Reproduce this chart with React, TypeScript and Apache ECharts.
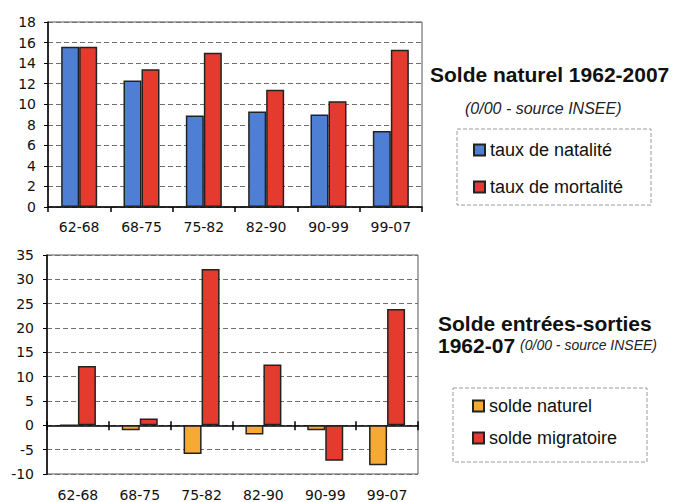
import React, { useEffect, useRef } from "react";
import * as echarts from "echarts";

const periods = ["62-68", "68-75", "75-82", "82-90", "90-99", "99-07"];
const natalite = [15.6, 12.3, 8.9, 9.3, 9.0, 7.4];
const mortalite = [15.6, 13.4, 15.0, 11.4, 10.3, 15.3];
const soldeNaturel = [0, -1.0, -5.9, -1.9, -1.0, -8.2];
const soldeMigratoire = [12.2, 1.4, 32.1, 12.5, -7.3, 23.9];
const bottomMin = -10;
const bottomMax = 35;

const BLUE = "#4e7fd5";
const RED = "#e53b2e";
const ORANGE = "#f7a935";
const EDGE = "#222";
const AXIS_FONT = "DejaVu Sans";
const TEXT_FONT = "Liberation Sans, Arial, sans-serif";

const G2_TOP = 255;
const G2_HEIGHT = 219;

export default function App() {
  const ref = useRef<HTMLDivElement>(null);
  useEffect(() => {
    if (!ref.current) return;
    const chart = echarts.init(ref.current, null, { renderer: "svg" });
    const gridLine = { show: true, lineStyle: { color: "#6f6f6f", type: [5, 3] as any, width: 1 } };
    const yLabel = { color: "#111", fontFamily: AXIS_FONT, fontSize: 14 };
    const xLabel = { color: "#111", fontFamily: AXIS_FONT, fontSize: 14 };
    const barBase = { type: "bar" as const, barWidth: 18, barGap: "0%" };
    const zeroOffset = -(G2_HEIGHT * (0 - bottomMin)) / (bottomMax - bottomMin);
    chart.setOption({
      animation: false,
      backgroundColor: "#ffffff",
      title: [
        {
          text: "Solde naturel 1962-2007",
          left: 430,
          top: 64,
          textStyle: { fontFamily: TEXT_FONT, fontSize: 21, fontWeight: "bold", color: "#111" },
          padding: 0,
        },
        {
          text: "(0/00 - source INSEE)",
          left: 465,
          top: 100,
          textStyle: { fontFamily: TEXT_FONT, fontSize: 16, fontStyle: "italic", fontWeight: "normal", color: "#222" },
          padding: 0,
        },
        {
          text: "{t|Solde entrées-sorties}\n{b|1962-07} {i|(0/00 - source INSEE)}",
          left: 438,
          top: 312,
          padding: 0,
          textStyle: {
            rich: {
              t: { fontFamily: TEXT_FONT, fontSize: 21, fontWeight: "bold", color: "#111", lineHeight: 22 },
              b: { fontFamily: TEXT_FONT, fontSize: 21, fontWeight: "bold", color: "#111", lineHeight: 22 },
              i: { fontFamily: TEXT_FONT, fontSize: 14, fontStyle: "italic", fontWeight: "normal", color: "#222", lineHeight: 22 },
            },
          },
        },
      ],
      legend: [
        {
          data: ["taux de natalité", "taux de mortalité"],
          orient: "vertical",
          left: 473,
          top: 141,
          padding: 0,
          itemWidth: 11,
          itemHeight: 11,
          itemGap: 19,
          icon: "rect",
          textStyle: { fontFamily: TEXT_FONT, fontSize: 18, color: "#111" },
        },
        {
          data: ["solde naturel", "solde migratoire"],
          orient: "vertical",
          left: 472,
          top: 397,
          padding: 0,
          itemWidth: 11,
          itemHeight: 11,
          itemGap: 14,
          icon: "rect",
          textStyle: { fontFamily: TEXT_FONT, fontSize: 18, color: "#111" },
        },
      ],
      graphic: [
        {
          type: "rect",
          shape: { x: 457, y: 129, width: 194, height: 76 },
          style: { fill: "none", stroke: "#9a9a9a", lineWidth: 1, lineDash: [4, 2] },
        },
        {
          type: "rect",
          shape: { x: 453, y: 388, width: 194, height: 74 },
          style: { fill: "none", stroke: "#9a9a9a", lineWidth: 1, lineDash: [4, 2] },
        },
      ],
      grid: [
        { left: 48, top: 22, width: 374, height: 185, show: true, borderColor: "#555", borderWidth: 1, backgroundColor: "transparent" },
        { left: 47, top: G2_TOP, width: 371, height: G2_HEIGHT, show: true, borderColor: "#555", borderWidth: 1, backgroundColor: "transparent" },
      ],
      xAxis: [
        {
          type: "category",
          gridIndex: 0,
          data: periods,
          axisLine: { lineStyle: { color: "#000", width: 1.5 } },
          axisTick: { show: true, length: 5, lineStyle: { color: "#000", width: 1.5 } },
          axisLabel: { ...xLabel, margin: 13 },
        },
        {
          type: "category",
          gridIndex: 1,
          data: periods,
          position: "bottom",
          axisLine: { onZero: true, lineStyle: { color: "#000", width: 1.5 } },
          axisTick: { show: true, length: 5, lineStyle: { color: "#000", width: 1.5 } },
          axisLabel: { show: false },
        },
        {
          type: "category",
          gridIndex: 1,
          data: periods,
          position: "bottom",
          offset: zeroOffset,
          axisLine: { show: false, onZero: false },
          axisTick: { show: true, inside: true, length: 4, lineStyle: { color: "#000", width: 1.5 } },
          axisLabel: { show: false },
        },
        {
          type: "category",
          gridIndex: 1,
          data: periods,
          position: "bottom",
          axisLine: { show: false, onZero: false },
          axisTick: { show: false },
          axisLabel: { ...xLabel, margin: 14 },
        },
      ],
      yAxis: [
        {
          type: "value",
          gridIndex: 0,
          min: 0,
          max: 18,
          interval: 2,
          axisLine: { show: true, lineStyle: { color: "#000", width: 1.5 } },
          axisTick: { show: true, length: 4, lineStyle: { color: "#000" } },
          axisLabel: { ...yLabel, margin: 12 },
          splitLine: gridLine,
        },
        {
          type: "value",
          gridIndex: 1,
          min: bottomMin,
          max: bottomMax,
          interval: 5,
          axisLine: { show: true, lineStyle: { color: "#000", width: 1.5 } },
          axisTick: { show: true, length: 4, lineStyle: { color: "#000" } },
          axisLabel: { ...yLabel, margin: 13 },
          splitLine: gridLine,
        },
      ],
      series: [
        {
          ...barBase,
          name: "taux de natalité",
          xAxisIndex: 0,
          yAxisIndex: 0,
          data: natalite,
          itemStyle: { color: BLUE, borderColor: EDGE, borderWidth: 1.5 },
        },
        {
          ...barBase,
          name: "taux de mortalité",
          xAxisIndex: 0,
          yAxisIndex: 0,
          data: mortalite,
          itemStyle: { color: RED, borderColor: EDGE, borderWidth: 1.5 },
        },
        {
          ...barBase,
          name: "solde naturel",
          xAxisIndex: 1,
          yAxisIndex: 1,
          data: soldeNaturel,
          itemStyle: { color: ORANGE, borderColor: EDGE, borderWidth: 1.5 },
        },
        {
          ...barBase,
          name: "solde migratoire",
          xAxisIndex: 1,
          yAxisIndex: 1,
          data: soldeMigratoire,
          itemStyle: { color: RED, borderColor: EDGE, borderWidth: 1.5 },
        },
      ],
    });
    return () => chart.dispose();
  }, []);
  return (
    <div
      ref={ref}
      style={{ position: "fixed", left: 0, top: 0, width: 673, height: 502, background: "#fff" }}
    />
  );
}
